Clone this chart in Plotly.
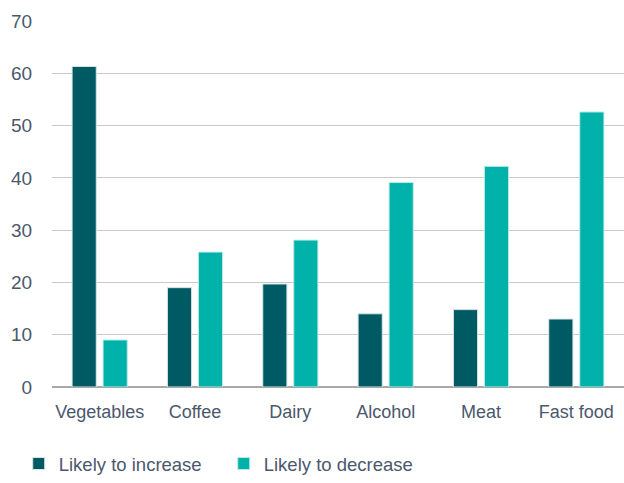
import plotly.graph_objects as go

categories = ["Vegetables", "Coffee", "Dairy", "Alcohol", "Meat", "Fast food"]
likely_increase = [61.3, 19.0, 19.7, 14.0, 14.8, 13.0]
likely_decrease = [9.0, 25.8, 28.1, 39.1, 42.2, 52.6]
y_ticks = [0, 10, 20, 30, 40, 50, 60, 70]

dark = "#005A63"
light = "#00B2AA"
txt = "#4B586C"

fig = go.Figure()
fig.add_trace(go.Bar(x=categories, y=likely_increase, name="Likely to increase",
                     marker=dict(color=dark, line=dict(color="#d8e4e6", width=1))))
fig.add_trace(go.Bar(x=categories, y=likely_decrease, name="Likely to decrease",
                     marker=dict(color=light, line=dict(color="#bfe9e6", width=1))))

fig.update_layout(
    width=624, height=483,
    margin=dict(l=52, r=0, t=21, b=96),
    paper_bgcolor="white", plot_bgcolor="white",
    barmode="group", bargap=0.35, bargroupgap=0.22,
    font=dict(family="Liberation Sans, Arial, sans-serif", color=txt, size=18),
    showlegend=True,
    legend=dict(orientation="h", xref="container", x=0.03, xanchor="left",
                yref="container", y=-0.019, yanchor="bottom",
                font=dict(size=18.5, color=txt), itemwidth=30, traceorder="normal",
                entrywidth=160),
    xaxis=dict(showgrid=False, showline=False, ticks="outside", ticklen=8,
               tickcolor="rgba(0,0,0,0)", automargin=False,
               tickfont=dict(size=18, color=txt)),
    yaxis=dict(range=[0, 70], tickvals=y_ticks, showgrid=True, gridcolor="#C9C9C9",
               gridwidth=1, zeroline=True, zerolinecolor="#A8A8A8", zerolinewidth=2,
               ticks="outside", ticklen=15, tickcolor="rgba(0,0,0,0)", automargin=False,
               tickfont=dict(size=19, color=txt)),
)

fig.write_html("out.html", config={"displayModeBar": False},
               post_script="document.body.style.margin='0';document.body.style.overflow='hidden';")
